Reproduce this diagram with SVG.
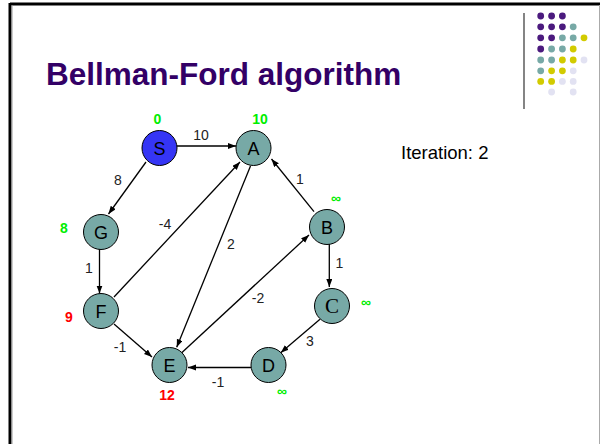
<svg xmlns="http://www.w3.org/2000/svg" width="600" height="444" viewBox="0 0 600 444">
<style>
.node circle{fill:#77A9A6;stroke:#000;stroke-width:1}
.node text{font-family:"Liberation Sans",Arial,sans-serif;font-size:18px;fill:#000;text-anchor:middle}
.edge line{stroke:#000;stroke-width:1.3;marker-end:url(#arr)}
.el{font-family:"Liberation Sans",Arial,sans-serif;font-size:14px;fill:#222;text-anchor:middle}
.dg{font-family:"Liberation Sans",Arial,sans-serif;font-size:14px;font-weight:bold;fill:#00EE00;text-anchor:middle}
.dr{font-family:"Liberation Sans",Arial,sans-serif;font-size:14px;font-weight:bold;fill:#FF0000;text-anchor:middle}
.p{fill:#4B1A7E}.t{fill:#77A9A6}.y{fill:#D2CB00}.l{fill:#E2E2F2}
</style>
<defs>
<marker id="arr" markerUnits="userSpaceOnUse" markerWidth="9" markerHeight="7" refX="8" refY="3" orient="auto">
<path d="M0,0 L8,3 L0,6 z" fill="#000"/>
</marker>
</defs>
<rect x="0" y="0" width="600" height="444" fill="#fff"/>
<line x1="10" y1="4" x2="600" y2="4" stroke="#000" stroke-width="3"/>
<line x1="10" y1="3" x2="10" y2="444" stroke="#000" stroke-width="3"/>
<line x1="12" y1="5" x2="12" y2="444" stroke="#999" stroke-width="1"/>
<line x1="599.5" y1="5" x2="599.5" y2="444" stroke="#aaa" stroke-width="1"/>
<line x1="524" y1="13" x2="524" y2="109" stroke="#333" stroke-width="1.2"/>
<g id="dots">
<circle class="p" cx="540.7" cy="16" r="3.4"/><circle class="p" cx="551.6" cy="16" r="3.4"/><circle class="p" cx="562.4" cy="16" r="3.4"/>
<circle class="p" cx="540.7" cy="26.8" r="3.4"/><circle class="p" cx="551.6" cy="26.8" r="3.4"/><circle class="p" cx="562.4" cy="26.8" r="3.4"/><circle class="t" cx="573.2" cy="26.8" r="3.4"/>
<circle class="p" cx="540.7" cy="37.8" r="3.4"/><circle class="p" cx="551.6" cy="37.8" r="3.4"/><circle class="t" cx="562.4" cy="37.8" r="3.4"/><circle class="t" cx="573.2" cy="37.8" r="3.4"/><circle class="y" cx="584" cy="37.8" r="3.4"/>
<circle class="p" cx="540.7" cy="49" r="3.4"/><circle class="t" cx="551.6" cy="49" r="3.4"/><circle class="t" cx="562.4" cy="49" r="3.4"/><circle class="y" cx="573.2" cy="49" r="3.4"/>
<circle class="t" cx="540.7" cy="60" r="3.4"/><circle class="t" cx="551.6" cy="60" r="3.4"/><circle class="y" cx="562.4" cy="60" r="3.4"/><circle class="y" cx="573.2" cy="60" r="3.4"/><circle class="l" cx="584" cy="60" r="3.4"/>
<circle class="t" cx="540.7" cy="70.8" r="3.4"/><circle class="y" cx="551.6" cy="70.8" r="3.4"/><circle class="y" cx="562.4" cy="70.8" r="3.4"/><circle class="l" cx="573.2" cy="70.8" r="3.4"/>
<circle class="y" cx="540.7" cy="81.4" r="3.4"/><circle class="y" cx="551.6" cy="81.4" r="3.4"/><circle class="l" cx="562.4" cy="81.4" r="3.4"/><circle class="l" cx="573.2" cy="81.4" r="3.4"/>
<circle class="l" cx="551.6" cy="92" r="3.4"/><circle class="l" cx="573.2" cy="92" r="3.4"/>
</g>
<text x="46" y="85" font-family="'Liberation Sans',Arial,sans-serif" font-size="31.5" font-weight="bold" fill="#330066">Bellman-Ford algorithm</text>
<text x="401" y="159" font-family="'Liberation Sans',Arial,sans-serif" font-size="18.5" fill="#000">Iteration: 2</text>
<g id="connectors" class="edge">
<line x1="177" y1="146" x2="236" y2="146"/>
<line x1="146" y1="162" x2="108.5" y2="214"/>
<line x1="99.5" y1="249" x2="99.5" y2="293.5"/>
<line x1="114" y1="297" x2="240" y2="162"/>
<line x1="250.5" y1="166" x2="176.7" y2="347.3"/>
<line x1="314" y1="211.7" x2="271.5" y2="159"/>
<line x1="181.7" y1="352.7" x2="309" y2="235"/>
<line x1="329.3" y1="244" x2="329.3" y2="287"/>
<line x1="320" y1="319.3" x2="280.7" y2="352.7"/>
<line x1="114" y1="324" x2="152" y2="357"/>
<line x1="251" y1="367.5" x2="188" y2="367.5"/>
</g>
<g id="edge-labels">
<text class="el" x="201" y="140">10</text>
<text class="el" x="118" y="185">8</text>
<text class="el" x="165" y="229">-4</text>
<text class="el" x="231" y="249">2</text>
<text class="el" x="89" y="273">1</text>
<text class="el" x="300" y="184">1</text>
<text class="el" x="339.5" y="268">1</text>
<text class="el" x="258" y="303">-2</text>
<text class="el" x="310" y="346">3</text>
<text class="el" x="120" y="352">-1</text>
<text class="el" x="218" y="387">-1</text>
</g>
<g id="node-S" class="node"><circle cx="159.5" cy="148" r="17.5" style="fill:#3535F5"/><text x="159.5" y="154.5">S</text></g>
<g id="node-A" class="node"><circle cx="253.5" cy="148" r="17.5"/><text x="253.5" y="154.5">A</text></g>
<g id="node-G" class="node"><circle cx="101" cy="232" r="17.5"/><text x="101" y="238.5">G</text></g>
<g id="node-B" class="node"><circle cx="327" cy="227" r="17.5"/><text x="327" y="233.5">B</text></g>
<g id="node-C" class="node"><circle cx="332" cy="306" r="17.5"/><text x="332" y="313" style="font-family:'Liberation Serif','Times New Roman',serif;font-size:21px">C</text></g>
<g id="node-F" class="node"><circle cx="101" cy="311" r="17.5"/><text x="101" y="317.5">F</text></g>
<g id="node-E" class="node"><circle cx="169.5" cy="365" r="17.5"/><text x="169.5" y="371.5">E</text></g>
<g id="node-D" class="node"><circle cx="268.5" cy="365" r="17.5"/><text x="268.5" y="371.5">D</text></g>
<g id="distances">
<text class="dg" x="157.5" y="124">0</text>
<text class="dg" x="260" y="124">10</text>
<text class="dg" x="64" y="233">8</text>
<text class="dg" x="336" y="203">∞</text>
<text class="dg" x="366" y="307">∞</text>
<text class="dg" x="282" y="396">∞</text>
<text class="dr" x="69" y="322">9</text>
<text class="dr" x="167" y="400">12</text>
</g>
</svg>
